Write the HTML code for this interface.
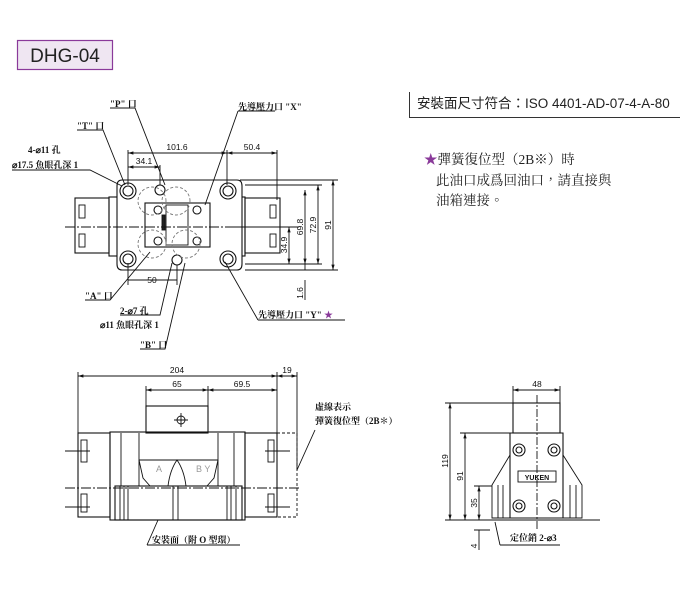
<!DOCTYPE html>
<html><head><meta charset="utf-8"><style>
body{margin:0;background:#fff;width:700px;height:600px;overflow:hidden}
svg{position:absolute;left:0;top:0}
.t{font-family:"Liberation Serif","Noto Serif CJK SC","Noto Sans CJK TC",serif;font-size:9px;fill:#111;font-weight:bold}
.s{font-family:"Liberation Sans",sans-serif;font-size:8.5px;fill:#111}
</style></head><body>
<svg width="700" height="600" viewBox="0 0 700 600" xmlns="http://www.w3.org/2000/svg">
<defs><marker id="a" viewBox="0 0 10 10" refX="10" refY="5" markerWidth="6" markerHeight="6" orient="auto-start-reverse"><path d="M0,2 L10,5 L0,8 z" fill="#111"/></marker></defs>
<rect x="17.5" y="40.5" width="95" height="29" fill="#efe6f2" stroke="#8a3a9a" stroke-width="1.2"/>
<text x="65" y="62" text-anchor="middle" font-family="Liberation Sans,sans-serif" font-size="19" fill="#222">DHG-04</text>
<path d="M409.5,92 V117.5 H680" stroke="#333" fill="none"/>
<text x="417" y="108" font-family="Liberation Sans,'Noto Sans CJK TC',sans-serif" font-size="13.5" fill="#222">安裝面尺寸符合：ISO 4401-AD-07-4-A-80</text>
<g font-family="Liberation Serif,'Noto Serif CJK TC',serif" font-size="13.5" fill="#222">
<text x="424" y="164"><tspan fill="#8a3a9a">★</tspan>彈簧復位型（2B※）時</text>
<text x="436" y="185">此油口成爲回油口，請直接與</text>
<text x="436" y="205">油箱連接。</text></g>

<g stroke="#111" stroke-width="0.9" fill="none">
<rect x="75" y="198" width="34" height="55" stroke-width="1.1"/><rect x="245" y="198" width="35" height="55" stroke-width="1.1"/>
<rect x="79" y="205" width="6" height="13"/><rect x="79" y="234" width="6" height="13"/>
<rect x="270" y="205" width="6" height="13"/><rect x="270" y="234" width="6" height="13"/>
<rect x="109" y="197" width="136" height="59" stroke-width="1.1"/>
<path d="M122,180 H237 Q242,180 242,186 V264 Q242,270 237,270 H122 Q117,270 117,264 V186 Q117,180 122,180Z" fill="#fff" stroke-width="1.1"/>
<rect x="145" y="203" width="65" height="44" stroke-width="1.1"/>
<rect x="166" y="205" width="22" height="40"/>
<rect x="162" y="215" width="3" height="15" fill="#222"/>
<g stroke-width="1.1">
<circle cx="128" cy="191" r="8"/><circle cx="128" cy="191" r="5"/>
<circle cx="228" cy="191" r="8"/><circle cx="228" cy="191" r="5"/>
<circle cx="128" cy="259" r="8"/><circle cx="128" cy="259" r="5"/>
<circle cx="228" cy="259" r="8"/><circle cx="228" cy="259" r="5"/>
<circle cx="160" cy="190" r="5"/><circle cx="177" cy="260" r="5"/>
<circle cx="158" cy="210" r="4"/><circle cx="197" cy="210" r="4"/>
<circle cx="158" cy="241" r="4"/><circle cx="197" cy="241" r="4"/>
</g>
<g stroke-dasharray="3,2" stroke="#777"><circle cx="152" cy="201" r="14"/><circle cx="176" cy="201" r="14"/><circle cx="152" cy="244" r="14"/><circle cx="186" cy="244" r="14"/></g>
<path d="M65,227 H300" stroke-dasharray="10,2,2,2"/>
<path d="M128,153 H227" marker-start="url(#a)" marker-end="url(#a)"/>
<path d="M227,153 H277" marker-start="url(#a)" marker-end="url(#a)"/>
<path d="M128,167 H160" marker-start="url(#a)" marker-end="url(#a)"/>
<path d="M128,150 V185 M227,150 V185 M277,150 V200 M160,165 V185"/>
<path d="M128,263 V285 M177,265 V285 M128,280 H177" />
<path d="M240,180 H338 M245,185 H322 M245,270 H338 M245,264 H322 M230,227 H292"/>
<path d="M333,180 V270" marker-start="url(#a)" marker-end="url(#a)"/>
<path d="M318,185 V264" marker-start="url(#a)" marker-end="url(#a)"/>
<path d="M305,190 V264" marker-start="url(#a)" marker-end="url(#a)"/>
<path d="M289,227 V264" marker-start="url(#a)" marker-end="url(#a)"/>
<path d="M305,280 V300 M305,264 V270"/>
<path d="M110,108 H135 L165,185"/><path d="M77,130 H103 L125,185"/>
<path d="M12,170 H90 L122,186"/>
<path d="M238,111 H275 M238,111 L205,205"/>
<path d="M85,300 H110 L150,252"/><path d="M120,315 H160 L172,263"/>
<path d="M140,349 H165 L185,263"/>
<path d="M258,320 H345 M258,320 L225,262"/>

<path d="M78,376 H277" marker-start="url(#a)" marker-end="url(#a)"/>
<path d="M277,376 H297" marker-start="url(#a)" marker-end="url(#a)"/>
<path d="M146,390 H208" marker-start="url(#a)" marker-end="url(#a)"/>
<path d="M208,390 H277" marker-start="url(#a)" marker-end="url(#a)"/>
<path d="M78,372 V433 M277,372 V433 M297,372 V470 M146,386 V406 M208,386 V406"/>
<rect x="146" y="406" width="62" height="27" stroke-width="1.1"/>
<circle cx="181" cy="420" r="4"/><path d="M174,420 H188 M181,413 V427"/>
<rect x="78" y="433" width="32" height="84" stroke-width="1.1"/>
<rect x="245" y="433" width="32" height="84" stroke-width="1.1"/>
<path d="M277,433 H297 V517 H277" stroke-dasharray="3,2"/>
<rect x="81" y="440" width="6" height="22"/><rect x="81" y="494" width="6" height="18"/>
<rect x="268" y="440" width="6" height="22"/><rect x="268" y="494" width="6" height="18"/>
<rect x="110" y="432" width="135" height="88" stroke-width="1.1"/>
<path d="M121,433 V486 M139,433 V486 M218,433 V486 M234,433 V486"/>
<path d="M139,460 H218 M139,460 L143,478 L150,486 M218,460 L214,478 L207,486"/>
<path d="M168,486 Q170,470 177,460 Q184,470 186,486"/>
<rect x="115" y="486" width="127" height="34" stroke-width="1.1"/>
<path d="M120,486 V520 M124,486 V520 M128,486 V520 M173,486 V520 M178,486 V520 M227,486 V520 M231,486 V520 M236,486 V520"/>
<path d="M65,488 H300" stroke-dasharray="10,2,2,2"/>
<path d="M65,451 H90 M265,451 H290 M65,507 H90 M265,507 H290"/>
<path d="M147,545 H240 M147,545 L158,520"/>
<path d="M297,470 L315,430"/>

<path d="M513,390 H560" marker-start="url(#a)" marker-end="url(#a)"/>
<path d="M513,386 V403 M560,386 V403"/>
<rect x="513" y="403" width="47" height="30" stroke-width="1.1"/>
<path d="M510,433 H563 V518 H510Z" stroke-width="1.1"/>
<path d="M510,455 L492,485 V518 H510 M563,455 L582,485 V518 H563"/>
<path d="M498,485 V518 M503,485 V518 M570,485 V518 M576,485 V518"/>
<path d="M537,395 V530" stroke-dasharray="8,2,2,2"/>
<g stroke-width="1.1"><circle cx="519" cy="450" r="6"/><circle cx="519" cy="450" r="3"/>
<circle cx="554" cy="450" r="6"/><circle cx="554" cy="450" r="3"/>
<circle cx="519" cy="506" r="6"/><circle cx="519" cy="506" r="3"/>
<circle cx="554" cy="506" r="6"/><circle cx="554" cy="506" r="3"/></g>
<rect x="518" y="471" width="38" height="11"/>
<path d="M445,403 H513 M460,433 H510 M474,486 H492 M445,520 H600 M474,530 H490"/>
<path d="M450,403 V520" marker-start="url(#a)" marker-end="url(#a)"/>
<path d="M465,433 V520" marker-start="url(#a)" marker-end="url(#a)"/>
<path d="M479,486 V520" marker-start="url(#a)" marker-end="url(#a)"/>
<path d="M479,530 V550"/>
<path d="M500,545 H560 M500,545 L495,522"/>
</g>
<g class="t">
<text x="110" y="107">"P" 口</text><text x="77" y="129">"T" 口</text>
<text x="28" y="153">4-⌀11 孔</text><text x="12" y="168">⌀17.5 魚眼孔深 1</text>
<text x="238" y="110">先導壓力口 "X"</text>
<text x="85" y="299">"A" 口</text><text x="120" y="314">2-⌀7 孔</text>
<text x="100" y="328">⌀11 魚眼孔深 1</text><text x="140" y="348">"B" 口</text>
<text x="258" y="318">先導壓力口 "Y" <tspan fill="#8a3a9a">★</tspan></text>
<text x="315" y="410">虛線表示</text><text x="315" y="424">彈簧復位型（2B＊）</text>
<text x="152" y="543">安裝面（附 O 型環）</text>
<text x="510" y="541">定位銷 2-⌀3</text>
</g>
<g class="s">
<text x="177" y="150" text-anchor="middle">101.6</text><text x="252" y="150" text-anchor="middle">50.4</text>
<text x="144" y="164" text-anchor="middle">34.1</text><text x="152" y="283" text-anchor="middle">50</text>
<text x="177" y="373" text-anchor="middle">204</text><text x="287" y="373" text-anchor="middle">19</text>
<text x="177" y="387" text-anchor="middle">65</text><text x="242" y="387" text-anchor="middle">69.5</text>
<text x="537" y="387" text-anchor="middle">48</text>
<text transform="translate(287,245) rotate(-90)" text-anchor="middle">34.9</text>
<text transform="translate(303,227) rotate(-90)" text-anchor="middle">69.8</text>
<text transform="translate(316,225) rotate(-90)" text-anchor="middle">72.9</text>
<text transform="translate(331,225) rotate(-90)" text-anchor="middle">91</text>
<text transform="translate(303,293) rotate(-90)" text-anchor="middle">1.6</text>
<text transform="translate(448,461) rotate(-90)" text-anchor="middle">119</text>
<text transform="translate(463,476) rotate(-90)" text-anchor="middle">91</text>
<text transform="translate(477,503) rotate(-90)" text-anchor="middle">35</text>
<text transform="translate(477,546) rotate(-90)" text-anchor="middle">4</text>
<text x="537" y="480" text-anchor="middle" font-size="7" font-weight="bold">YUKEN</text>
<text x="156" y="472" fill="#999" font-size="9">A</text><text x="196" y="472" fill="#999" font-size="9">B Y</text>
</g>
</svg>
</body></html>
